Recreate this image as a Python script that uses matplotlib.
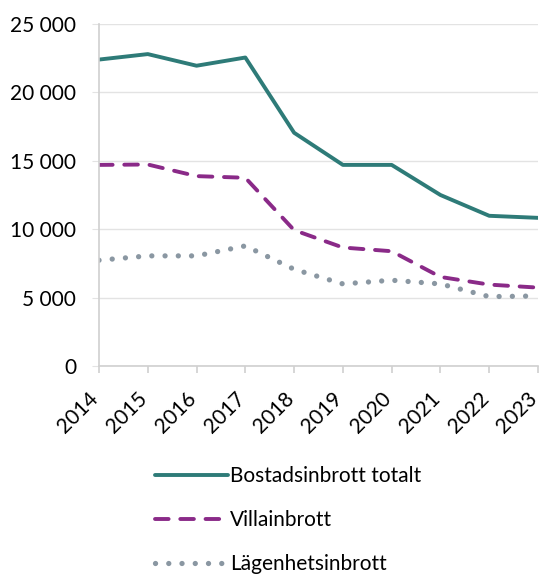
import matplotlib
matplotlib.use("Agg")
import matplotlib.pyplot as plt
from matplotlib.transforms import ScaledTranslation

# ---------- data ----------
years = [2014, 2015, 2016, 2017, 2018, 2019, 2020, 2021, 2022, 2023]
totalt = [22400, 22800, 21950, 22550, 17050, 14700, 14700, 12500, 10980, 10830]
villa = [14700, 14730, 13880, 13760, 9930, 8660, 8390, 6510, 5950, 5730]
lagenhet = [7730, 8050, 8050, 8780, 7070, 6000, 6270, 6000, 5070, 5120]
labels = ["Bostadsinbrott totalt", "Villainbrott", "Lägenhetsinbrott"]
yticks = [0, 5000, 10000, 15000, 20000, 25000]

plt.rcParams["font.family"] = ["Lato", "DejaVu Sans"]

DPI = 100
fig = plt.figure(figsize=(5.42, 5.76), dpi=DPI)
ax = fig.add_axes([99/542, 1-366/576, (538-99)/542, (366-24)/576])

ax.plot(years, totalt, color="#2E7B78", lw=2.8, solid_capstyle="round",
        label=labels[0])
ax.plot(years, villa, color="#8A2A88", lw=2.8, dashes=(3.5, 3.0),
        dash_capstyle="round", label=labels[1])
ax.plot(years, lagenhet, color="#8A97A2", lw=3.8, dashes=(0.01, 2.5),
        dash_capstyle="round", label=labels[2])

ax.set_xlim(years[0], years[-1])
ax.set_ylim(0, 25000)
ax.set_yticks(yticks)
ax.set_yticklabels([f"{v:,}".replace(",", " ") for v in yticks], fontsize=15)
ax.set_xticks(years)
ax.set_xticklabels([str(y) for y in years], rotation=45, ha="right",
                   va="top", rotation_mode="anchor", fontsize=15)

ax.grid(axis="y", color="#E3E3E3", lw=1)
ax.set_axisbelow(True)
for s in ["top", "right"]:
    ax.spines[s].set_visible(False)
for s in ["left", "bottom"]:
    ax.spines[s].set_color("#D0D0D0")
    ax.spines[s].set_linewidth(1.2)
ax.tick_params(axis="y", length=5, color="#E3E3E3", pad=11.5)
ax.tick_params(axis="x", length=5, width=1.2, color="#D0D0D0", pad=0)

# place the rotated year labels: right edge ~4px past the tick, top ~22px under axis
fig.canvas.draw()
rend = fig.canvas.get_renderer()
first = ax.get_xticklabels()[0]
bb = first.get_window_extent(rend)
tx, ty = ax.transData.transform((years[0], 0))
dx = (tx + 3.5) - bb.x1
dy = (ty - 22) - bb.y1
shift = ScaledTranslation(dx / DPI, dy / DPI, fig.dpi_scale_trans)
for t in ax.get_xticklabels():
    t.set_transform(t.get_transform() + shift)

fig.legend(loc="upper left", bbox_to_anchor=(155/542, 1-466/576),
           frameon=False, fontsize=15, handlelength=3.5, handletextpad=0.12,
           labelspacing=1.15, borderaxespad=0, borderpad=0)

fig.savefig("out.png", dpi=DPI)
